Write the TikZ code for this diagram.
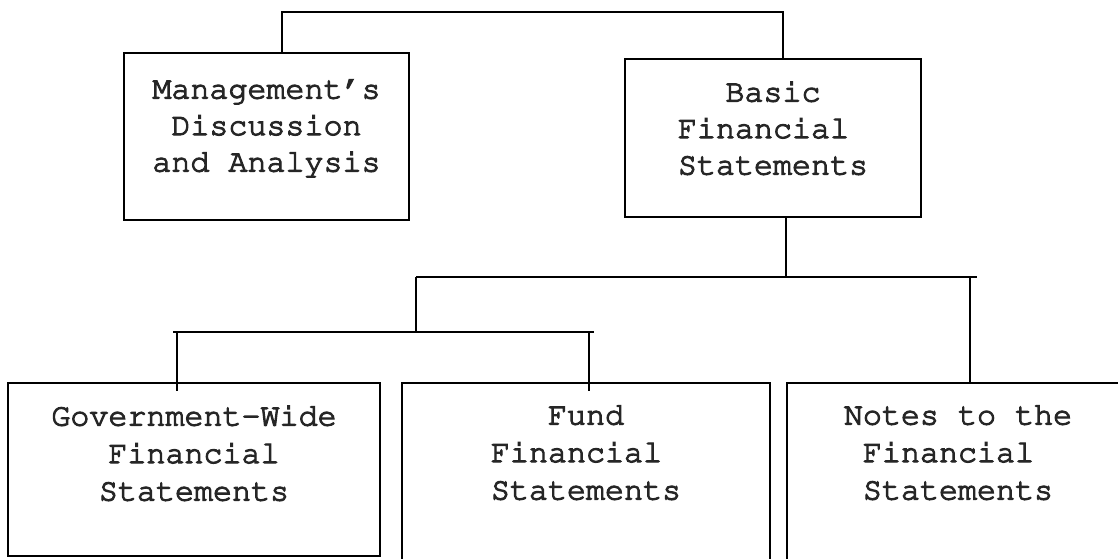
\documentclass[tikz,border=0pt]{standalone}
\usepackage[T1]{fontenc}
\newcommand{\boxtext}[5]{\special{pdf:literal direct 2 Tr 1.1 w}\rule{0pt}{#1pt}#3\\#4\\#5\rule[-#2pt]{0pt}{#2pt}\special{pdf:literal direct 0 Tr}}
\tikzset{
  box/.style={draw, line width=2.2pt, rectangle, inner sep=0pt, align=center, text=black!85},
  toptext/.style={font=\fontfamily{pcr}\fontsize{31.7}{36.5}\selectfont},
  bottext/.style={font=\fontfamily{pcr}\fontsize{31.7}{37.5}\selectfont},
  conn/.style={line width=2.2pt}
}
\begin{document}
\begin{tikzpicture}[x=1pt,y=-1pt]
\useasboundingbox (0,0) rectangle (1118,558);
\fill[white] (0,0) rectangle (1118,558);
\clip (0,0) rectangle (1118,558);

% top level boxes
\node[box, toptext, minimum width=285pt, minimum height=167pt] (md) at (266.5,136.5)
  {\boxtext{26}{29}{Management's}{Discussion}{and Analysis}};
\node[box, toptext, minimum width=296pt, minimum height=158pt] (bfs) at (773,138)
  {\boxtext{28}{28}{Basic}{Financial\hphantom{x}}{Statements}};

% bottom boxes
\node[box, bottext, minimum width=372pt, minimum height=173pt] (gov) at (194,469.5)
  {\boxtext{26}{39}{Government-Wide}{Financial}{Statements}};
\node[box, bottext, minimum width=368pt, minimum height=177pt] (fund) at (586,471.5)
  {\boxtext{26}{45}{Fund}{Financial\hphantom{x}}{Statements}};
\node[box, bottext, minimum width=342pt, minimum height=177pt] (notes) at (958,471.5)
  {\boxtext{26}{45}{Notes to the}{Financial\hphantom{x}}{Statements}};

% top bracket
\draw[conn] ([xshift=15.5pt]md.north) -- ++(0,-40) -| ([xshift=10pt]bfs.north);

% junctions
\coordinate (j1) at (786,277);
\coordinate (j2) at (416,277);
\coordinate (e1) at (977,277);
\coordinate (j3) at (416,332);
\coordinate (l1) at (173,332);
\coordinate (l2) at (594,332);

\draw[conn] ([xshift=13pt]bfs.south) -- (j1);
\draw[conn] (j2) -- (e1);
\draw[conn] (j2) -- (j3);
\draw[conn] (l1) -- (l2);
\draw[conn] ([xshift=-17pt,yshift=-9pt]gov.north) -- ([xshift=-17pt]gov.north |- j3);
\draw[conn] ([xshift=3pt,yshift=-9pt]fund.north) -- ([xshift=3pt]fund.north |- j3);
\draw[conn] ([xshift=12pt]notes.north) -- ([xshift=12pt]notes.north |- j1);
\end{tikzpicture}
\end{document}
